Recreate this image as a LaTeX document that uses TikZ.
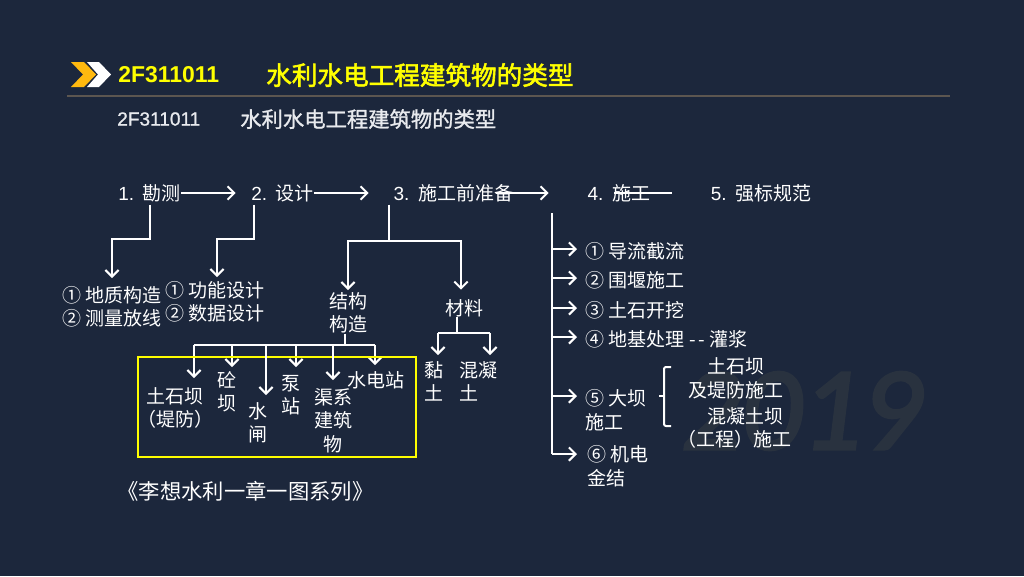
\documentclass[tikz,border=0pt]{standalone}
\usepackage{fontspec}
\setmainfont{Noto Sans CJK SC}
\newfontfamily\latfont{Liberation Sans}
\newfontfamily\yearfont[FakeBold=2.5]{Carlito}
\newfontfamily\subfont[FakeBold=1.2]{Noto Sans CJK SC}
\newfontfamily\sublat[FakeBold=1]{Liberation Sans}
\newfontfamily\headfont[FakeBold=2.2]{Noto Sans CJK SC}
\newcommand{\idx}[1]{{\latfont #1}\hspace{2.3pt}}
\usetikzlibrary{arrows.meta, positioning}
\definecolor{slide}{HTML}{1C273C}
\definecolor{mark}{HTML}{29323F}
\definecolor{rulecol}{HTML}{5C5650}
\definecolor{titlecol}{HTML}{FFFF00}
\definecolor{boxcol}{HTML}{FFFF00}
\definecolor{chevcol}{HTML}{FFB90F}
\definecolor{subcol}{HTML}{E8EAEE}
\begin{document}
\begin{tikzpicture}[
    x=0.75pt, y=-0.75pt,
    txt/.style={inner sep=0pt, text=white, align=left, font=\fontsize{14.25}{17.6}\selectfont},
    ctxt/.style={txt, align=center},
    arr/.style={-{Straight Barb[length=5pt, width=10pt, line width=1.5pt]}, line width=1.5pt, draw=white},
    lin/.style={line width=1.5pt, draw=white},
    rowarr/.style={arr, shorten >=1pt}
]
\useasboundingbox (0,0) rectangle (1024,576);
\fill[slide] (0,0) rectangle (1024,576);

\node[font=\itshape\fontsize{89}{89}\selectfont\yearfont, text=mark, inner sep=0pt, anchor=east] (year) at (922,411) {2019};

\fill[chevcol] (71,62) -- (84,62) -- (96,74.5) -- (84,87) -- (71,87) -- (83,74.5) -- cycle;
\fill[white] (87,62) -- (99,62) -- (111,74.5) -- (99,87) -- (87,87) -- (98,74.5) -- cycle;
\node[inner sep=0pt, anchor=west, text=titlecol, font=\bfseries\fontsize{17.2}{20}\selectfont\latfont] (code) at (118,75) {2F311011};
\node[inner sep=0pt, anchor=west, text=titlecol, font=\fontsize{19.2}{22}\selectfont\headfont] (title) at (266,75) {水利水电工程建筑物的类型};
\draw[rulecol, line width=1.1pt] (67,96) -- (950,96);
\node[inner sep=0pt, anchor=west, text=subcol, font=\fontsize{14.3}{17}\selectfont\sublat] (subcode) at (117,119) {2F311011};
\node[inner sep=0pt, anchor=west, text=subcol, font=\fontsize{16}{19}\selectfont\subfont] (subtitle) at (240,119) {水利水电工程建筑物的类型};

\node[txt, anchor=west] (survey) at (118,193) {\idx{1.} 勘测};
\node[txt, right=52.5pt of survey] (design) {\idx{2.} 设计};
\node[txt, right=59.25pt of design] (prep) {\idx{3.} 施工前准备};
\node[txt, right=55.5pt of prep] (build) {\idx{4.} 施工};
\node[txt, right=45pt of build] (norm) {\idx{5.} 强标规范};

\draw[rowarr] (survey) -- (design.west -| 237,0);
\draw[rowarr] (design) -- (prep.west -| 370,0);
\draw[rowarr] ([xshift=-13pt]prep.east) -- (build.west -| 550,0);
\draw[lin] ([xshift=-27pt]build.east) -- ++(58,0);

\node[txt, anchor=north] (geo) at (112,286) {① 地质构造\\② 测量放线};
\node[txt, anchor=north] (func) at (215,281) {① 功能设计\\② 数据设计};
\node[ctxt, anchor=north] (struct) at (348,292) {结构\\构造};
\node[ctxt, anchor=north] (mater) at (464,299) {材料};

\draw[arr, shorten <=2pt, shorten >=6pt] (survey.south -| 150,0) -- ++(0,37) -| (geo.north);
\draw[arr, shorten <=2pt, shorten >=3pt] (design.south -| 254,0) -- ++(0,37) -| (func.north -| 217,0);
\coordinate (fork) at (389,241);
\draw[lin, shorten <=2pt] (prep.south -| fork) -- (fork);
\draw[arr, shorten >=1.5pt] (fork) -| (struct.north);
\draw[arr, shorten >=7pt] (fork) -| (mater.north -| 461,0);

\coordinate (busl) at (194,345);
\coordinate (busb) at (232,345);
\coordinate (busc) at (266,345);
\coordinate (busd) at (296,345);
\coordinate (buse) at (333,345);
\coordinate (busr) at (375,345);
\draw[lin] (busl) -- (busr);
\draw[lin] (struct.south -| 345,0) -- (345,345);

\node[ctxt, anchor=north] (earth) at (175,387) {土石坝\\（堤防）};
\node[ctxt, anchor=north] (conc) at (227,371) {砼\\坝};
\node[ctxt, anchor=north] (sluice) at (258,402) {水\\闸};
\node[ctxt, anchor=north] (pump) at (291,375) {泵\\站};
\node[ctxt, anchor=north] (canal) at (333,388) {渠系\\建筑\\物};
\node[ctxt, anchor=north] (hydro) at (376,371) {水电站};

\draw[arr, shorten >=6.75pt] (busl) -- (busl |- earth.north);
\draw[arr, shorten >=3pt] (busb) -- (busb |- conc.north);
\draw[arr, shorten >=6pt] (busd) -- (busd |- pump.north);
\draw[arr, shorten >=4.5pt] (busr) -- (busr |- hydro.north);
\node[draw=boxcol, line width=1.5pt, minimum width=208.5pt, minimum height=75.5pt, inner sep=0pt, anchor=north west] (frame) at (137.3,355.7) {};
\draw[arr, shorten >=5.25pt] (busc) -- (busc |- sluice.north);
\draw[arr, shorten >=6pt] (buse) -- (buse |- canal.north);

\coordinate (matl) at (438,333);
\coordinate (matr) at (490,333);
\draw[lin] (matl) -- (matr);
\draw[lin] (mater.south -| 457,0) -- (457,333);
\node[txt, anchor=north west] (clay) at (424,361) {黏\\土};
\node[txt, anchor=north west] (mix) at (459,361) {混凝\\土};
\draw[arr, shorten >=4.5pt] (matl) -- (matl |- clay.north);
\draw[arr, shorten >=4.5pt] (matr) -- (matr |- mix.north);

\node[txt, anchor=west] (step1) at (585,251) {① 导流截流};
\node[txt, below=8.4pt of step1.south west, anchor=north west] (step2) {② 围堰施工};
\node[txt, below=8.4pt of step2.south west, anchor=north west] (step3) {③ 土石开挖};
\node[txt, below=8.4pt of step3.south west, anchor=north west] (step4) {④ 地基处理\hspace{4pt}{-}\hspace{1.5pt}{-}\hspace{3pt}灌浆};
\node[txt, anchor=west] (step5) at (585,410) {⑤ 大坝\\施工};
\node[txt, anchor=west] (step6) at (587,466) {⑥ 机电\\金结};

\coordinate (spine) at (552,213);
\coordinate (spinee) at (552,454);
\draw[lin] (spine) -- (spinee);
\draw[arr] (552,249) -- (577,249);
\draw[arr] (552,278) -- (577,278);
\draw[arr] (552,308) -- (577,308);
\draw[arr] (552,337) -- (577,337);
\draw[arr] (552,396) -- (577,396);
\draw[arr] (spinee) -- (577,454);

\draw[lin, rounded corners=1.5pt] (671,367) -- (664,367) -- (664,426) -- (671,426);
\draw[lin] (659,396) -- (664,396);

\node[ctxt, anchor=north] (rock) at (736,357.5) {土石坝\\及堤防施工};
\node[txt, anchor=north west] (concdam) at (677,407) {\hspace*{23pt}混凝土坝\\（工程）施工};

\node[ctxt, font=\fontsize{16}{19}\selectfont] (series) at (245.5,491) {《李想水利一章一图系列》};
\end{tikzpicture}
\end{document}
